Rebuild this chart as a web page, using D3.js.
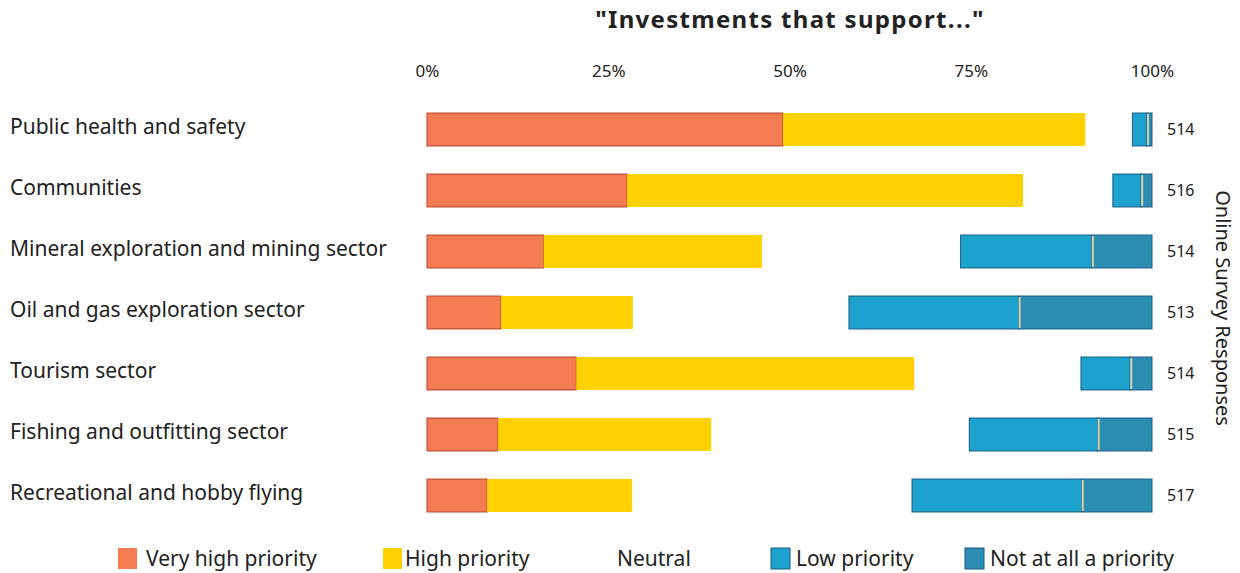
<!DOCTYPE html>
<html><head><meta charset="utf-8">
<script src="https://cdn.jsdelivr.net/npm/d3@7"></script>
<style>body{margin:0;background:#fff}svg{display:block}</style>
</head><body>
<svg id="c" width="1240" height="573"></svg>
<script>
const categories = ["Public health and safety","Communities","Mineral exploration and mining sector","Oil and gas exploration sector","Tourism sector","Fishing and outfitting sector","Recreational and hobby flying"];
const veryHigh = [49.1, 27.6, 16.1, 10.2, 20.6, 9.8, 8.3];
const high     = [41.7, 54.6, 30.1, 18.2, 46.6, 29.4, 20.0];
const neutral  = [6.5, 12.4, 27.4, 29.8, 23.0, 35.6, 38.6];
const low      = [2.0, 3.9, 18.1, 23.4, 6.8, 17.7, 23.4];
const notAtAll = [0.7, 1.5, 8.3, 18.4, 3.0, 7.5, 9.7];
const responses = [514, 516, 514, 513, 514, 515, 517];
const tickValues = [0, 25, 50, 75, 100];
const seriesNames = ["Very high priority","High priority","Neutral","Low priority","Not at all a priority"];
const seriesColors = ["#F47B52","#FFD100","#ffffff","#1DA2CE","#2C8DB3"];
const seriesStroke = ["#B8452E","none","none","#1A5C86","#1A5C86"];

const font = "'Noto Sans', 'Open Sans', sans-serif";
const svg = d3.select("#c");
const x = d3.scaleLinear().domain([0,100]).range([427,1152]);
const y = d3.scaleBand().domain(categories).range([99,526]).paddingInner(0.46).paddingOuter(0.23);

const rows = categories.map((c,i)=>({cat:c, vals:[veryHigh[i],high[i],neutral[i],low[i],notAtAll[i]], n:responses[i]}));

// title
svg.append("text").attr("x",790).attr("y",28).attr("text-anchor","middle")
  .attr("font-family",font).attr("font-weight","bold").attr("font-size",24).attr("letter-spacing",1.3).attr("fill","#222")
  .text("\"Investments that support...\"");

// axis
const axis = d3.axisTop(x).tickValues(tickValues).tickFormat(d=>d+"%").tickSize(0).tickPadding(0);
const ag = svg.append("g").attr("transform","translate(0,77)").call(axis);
ag.select(".domain").remove();
ag.selectAll("text").attr("font-family",font).attr("font-size",17).attr("fill","#222");

// bars
rows.forEach((r,i)=>{
  let acc = 0;
  const g = svg.append("g");
  r.vals.forEach((v,k)=>{
    const x0 = acc; acc += v;
    if(k===2) return;
    g.append("rect").attr("x",x(x0)).attr("width",x(acc)-x(x0))
      .attr("y",y(r.cat)).attr("height",y.bandwidth())
      .attr("fill",seriesColors[k])
      .attr("stroke",seriesStroke[k]).attr("stroke-width",seriesStroke[k]==="none"?0:1);
    if(k===4){
      g.append("line").attr("x1",x(x0)+1).attr("x2",x(x0)+1)
        .attr("y1",y(r.cat)+1).attr("y2",y(r.cat)+y.bandwidth()-1)
        .attr("stroke","#D9D3B0").attr("stroke-width",2);
    }
  });
  svg.append("text").attr("x",10).attr("y",y(r.cat)+y.bandwidth()/2-3).attr("dy","0.35em")
    .attr("font-family",font).attr("font-size",21).attr("fill","#222").text(r.cat);
  svg.append("text").attr("x",1167).attr("y",y(r.cat)+y.bandwidth()/2).attr("dy","0.35em")
    .attr("font-family",font).attr("font-size",16).attr("fill","#222").text(r.n);
});

// right title
svg.append("text").attr("transform","translate(1216,308) rotate(90)").attr("text-anchor","middle")
  .attr("font-family",font).attr("font-size",20).attr("fill","#222").text("Online Survey Responses");

// legend
const legX = [118, 383, 596, 771, 965];
const legTextX = [28, 22, 21, 25, 25];
seriesNames.forEach((s,k)=>{
  const lg = svg.append("g").attr("transform",`translate(${legX[k]},548)`);
  lg.append("rect").attr("width",19).attr("height",21).attr("fill",seriesColors[k])
    .attr("stroke",k>=3?"#1A5C86":"none").attr("stroke-width",1);
  lg.append("text").attr("x",legTextX[k]).attr("y",11).attr("dy","0.35em")
    .attr("font-family",font).attr("font-size",21).attr("fill","#222").text(s);
});
</script>
</body></html>
